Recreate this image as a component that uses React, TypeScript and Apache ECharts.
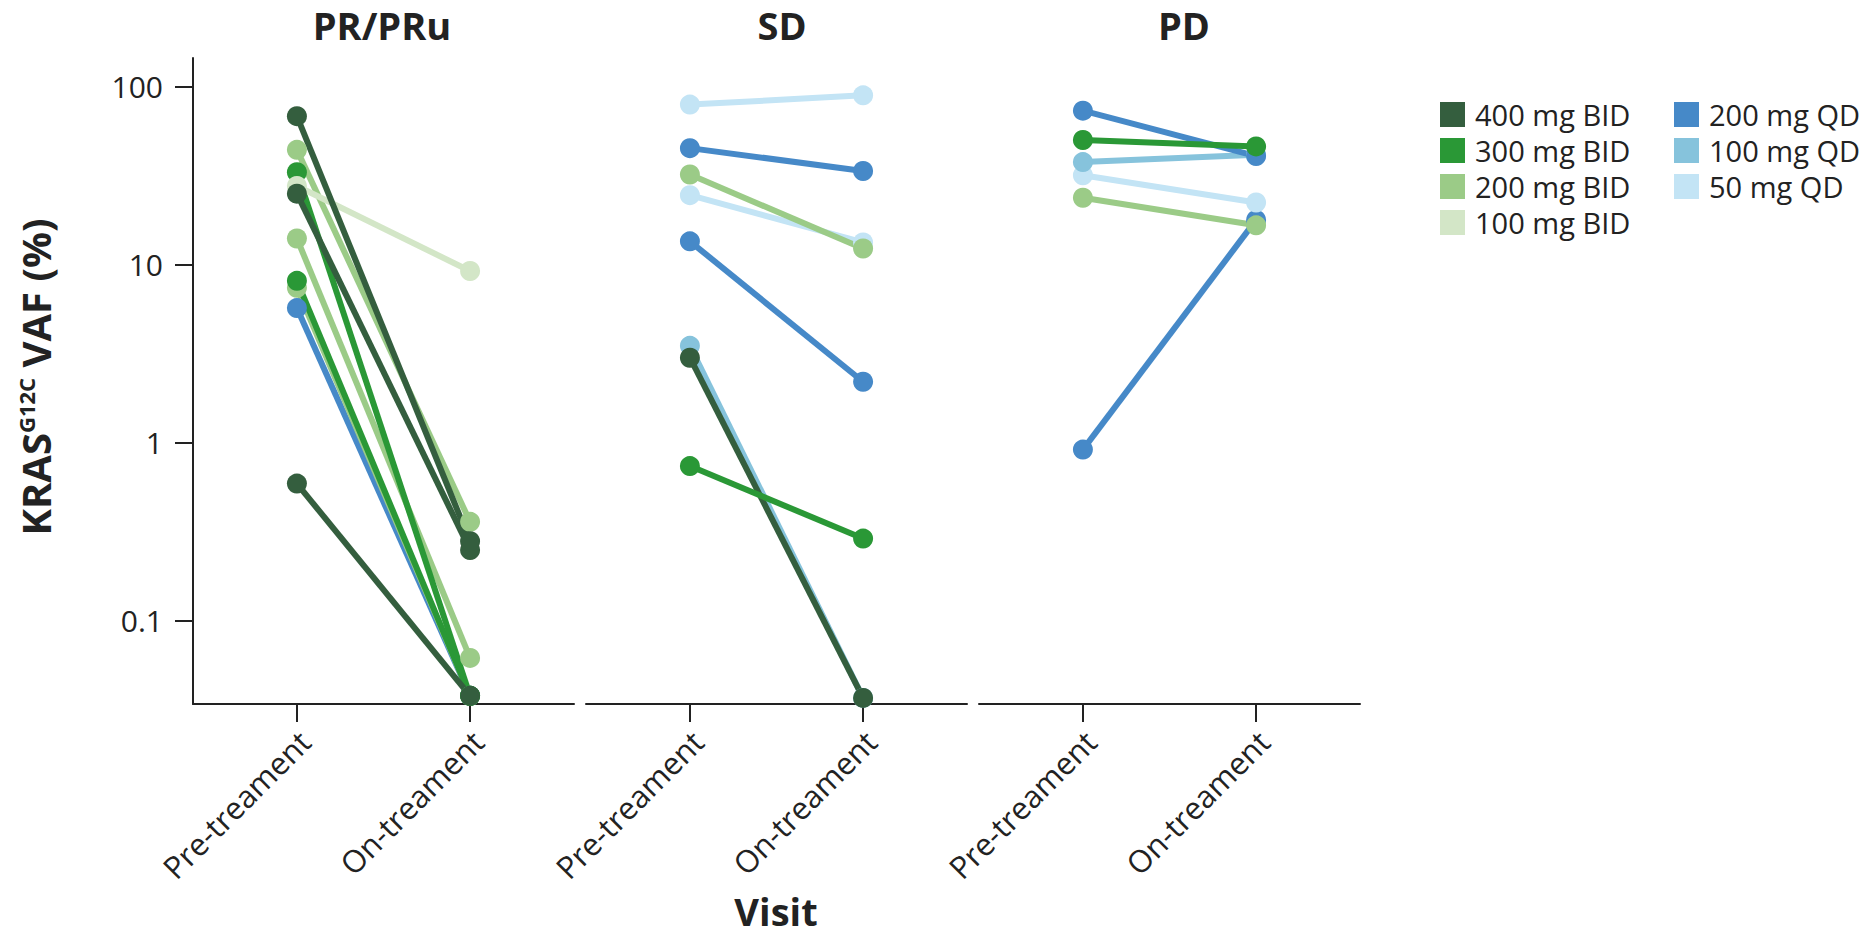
import React, { useEffect, useRef } from 'react';
import * as echarts from 'echarts';

// ---- data ----
const panelTitles = ['PR/PRu', 'SD', 'PD'];
const visitLabels = ['Pre-treament', 'On-treament'];
const doseNames = ['400 mg BID', '300 mg BID', '200 mg BID', '100 mg BID', '200 mg QD', '100 mg QD', '50 mg QD'];
const doseColors = ['#345e3e', '#2a9836', '#9bcb87', '#d3e6c7', '#4689c8', '#86c3dc', '#c3e4f5'];
const yTickExponents = [-1, 0, 1, 2];
const yTickLabels = ['0.1', '1', '10', '100'];

// PR/PRu panel: one entry per patient line
const prDose = ['200 mg QD', '200 mg BID', '200 mg BID', '300 mg BID', '300 mg BID', '200 mg BID', '100 mg BID', '400 mg BID', '400 mg BID', '400 mg BID'];
const prPre = [5.7, 7.4, 14, 8.1, 33, 44, 27.6, 0.59, 25, 68];
const prOn = [0.038, 0.038, 0.062, 0.038, 0.038, 0.36, 9.2, 0.038, 0.25, 0.28];

// SD panel
const sdDose = ['50 mg QD', '200 mg QD', '50 mg QD', '200 mg BID', '200 mg QD', '100 mg QD', '400 mg BID', '300 mg BID'];
const sdPre = [79, 45, 24.5, 32, 13.5, 3.5, 3.0, 0.74];
const sdOn = [89, 33.5, 13.3, 12.3, 2.2, 0.037, 0.037, 0.29];

// PD panel
const pdDose = ['200 mg QD', '200 mg BID', '50 mg QD', '100 mg QD', '200 mg QD', '300 mg BID'];
const pdPre = [0.915, 23.7, 31.7, 37.6, 73, 50];
const pdOn = [17.8, 16.6, 22.3, 41.3, 40.6, 46];

const panels = [
  { dose: prDose, pre: prPre, on: prOn },
  { dose: sdDose, pre: sdPre, on: sdOn },
  { dose: pdDose, pre: pdPre, on: pdOn },
];

// ---- layout / style ----
const FONT = 'Open Sans';
const INK = '#222';
const gridLefts = [193, 586, 979];
const titleCenters = [382, 782, 1184];

function buildOption() {
  const colorOf = (d: string) => doseColors[doseNames.indexOf(d)];
  const series: any[] = [];
  panels.forEach((p, pi) => {
    p.dose.forEach((d, i) => {
      const c = colorOf(d);
      series.push({
        type: 'line',
        name: d,
        xAxisIndex: pi,
        yAxisIndex: pi,
        data: [
          [0, Math.log10(p.pre[i])],
          [1, Math.log10(p.on[i])],
        ],
        symbol: 'circle',
        symbolSize: 20,
        lineStyle: { width: 6, color: c },
        itemStyle: { color: c, borderWidth: 0 },
        emphasis: { disabled: true },
        silent: true,
      });
    });
  });

  const axisLineStyle = { color: INK, width: 2 };
  const legendCommon = {
    top: 100,
    orient: 'vertical',
    itemWidth: 25,
    itemHeight: 25,
    itemGap: 7,
    icon: 'rect',
    padding: 0,
    selectedMode: false,
    itemStyle: { borderWidth: 0 },
    textStyle: { fontSize: 29, color: INK, fontFamily: FONT, padding: [0, 0, 0, 5] },
  };

  return {
    animation: false,
    backgroundColor: '#fff',
    textStyle: { fontFamily: FONT },
    title: [
      ...panelTitles.map((t, i) => ({
        text: t,
        left: titleCenters[i],
        top: 5,
        textAlign: 'center',
        padding: 0,
        textStyle: { fontSize: 38, fontWeight: 'bold', color: INK, fontFamily: FONT, lineHeight: 40 },
      })),
      {
        text: 'Visit',
        left: 776,
        top: 891,
        textAlign: 'center',
        padding: 0,
        textStyle: { fontSize: 38, fontWeight: 'bold', color: INK, fontFamily: FONT, lineHeight: 40 },
      },
    ],
    legend: [
      { ...legendCommon, data: doseNames.slice(0, 4), left: 1440 },
      { ...legendCommon, data: doseNames.slice(4), left: 1674 },
    ],
    grid: gridLefts.map((l) => ({ left: l, top: 58, width: 381, height: 646, outerBoundsMode: 'none' })),
    xAxis: gridLefts.map((_, i) => ({
      gridIndex: i,
      type: 'value',
      min: -0.6,
      max: 1.6,
      axisLine: { show: true, onZero: false, lineStyle: axisLineStyle },
      axisTick: { show: true, customValues: [0, 1], length: 18, lineStyle: axisLineStyle },
      axisLabel: {
        show: true,
        customValues: [0, 1],
        rotate: 45,
        margin: 40,
        fontSize: 31,
        color: INK,
        fontFamily: FONT,
        padding: [0, -11, 0, 0],
        formatter: (v: number) => (Math.abs(v - Math.round(v)) < 1e-6 ? visitLabels[Math.round(v)] ?? '' : ''),
      },
      splitLine: { show: false },
    })),
    yAxis: gridLefts.map((_, i) => ({
      gridIndex: i,
      type: 'value',
      min: -1.466,
      max: 2.159,
      show: i === 0,
      axisLine: { show: true, onZero: false, lineStyle: axisLineStyle },
      axisTick: { show: true, customValues: yTickExponents, length: 18, lineStyle: axisLineStyle },
      axisLabel: {
        customValues: yTickExponents,
        margin: 30,
        fontSize: 30,
        color: INK,
        fontFamily: FONT,
        formatter: (v: number) => {
          const r = Math.round(v);
          const k = yTickExponents.indexOf(r);
          return Math.abs(v - r) < 1e-6 && k >= 0 ? yTickLabels[k] : '';
        },
      },
      splitLine: { show: false },
    })),
    graphic: [
      {
        type: 'text',
        x: 35,
        y: 377,
        rotation: Math.PI / 2,
        style: {
          text: '{m|KRAS}{s|G12C}{m| VAF (%)}',
          align: 'center',
          verticalAlign: 'middle',
          fontSize: 40,
          fontWeight: 'bold',
          fontFamily: FONT,
          fill: INK,
          rich: {
            m: { fontSize: 40, fontWeight: 'bold', fontFamily: FONT, fill: INK },
            s: { fontSize: 22, fontWeight: 'bold', fontFamily: FONT, fill: INK, verticalAlign: 'top', padding: [0, 0, 8, 0] },
          },
        },
      },
    ],
    series,
  };
}

export default function App() {
  const ref = useRef<HTMLDivElement>(null);
  useEffect(() => {
    if (!ref.current) return;
    const chart = echarts.init(ref.current, undefined, { renderer: 'svg' });
    chart.setOption(buildOption() as any);
    return () => chart.dispose();
  }, []);
  return (
    <div
      ref={ref}
      style={{ position: 'fixed', left: 0, top: 0, width: 1875, height: 940, background: '#fff' }}
    />
  );
}
